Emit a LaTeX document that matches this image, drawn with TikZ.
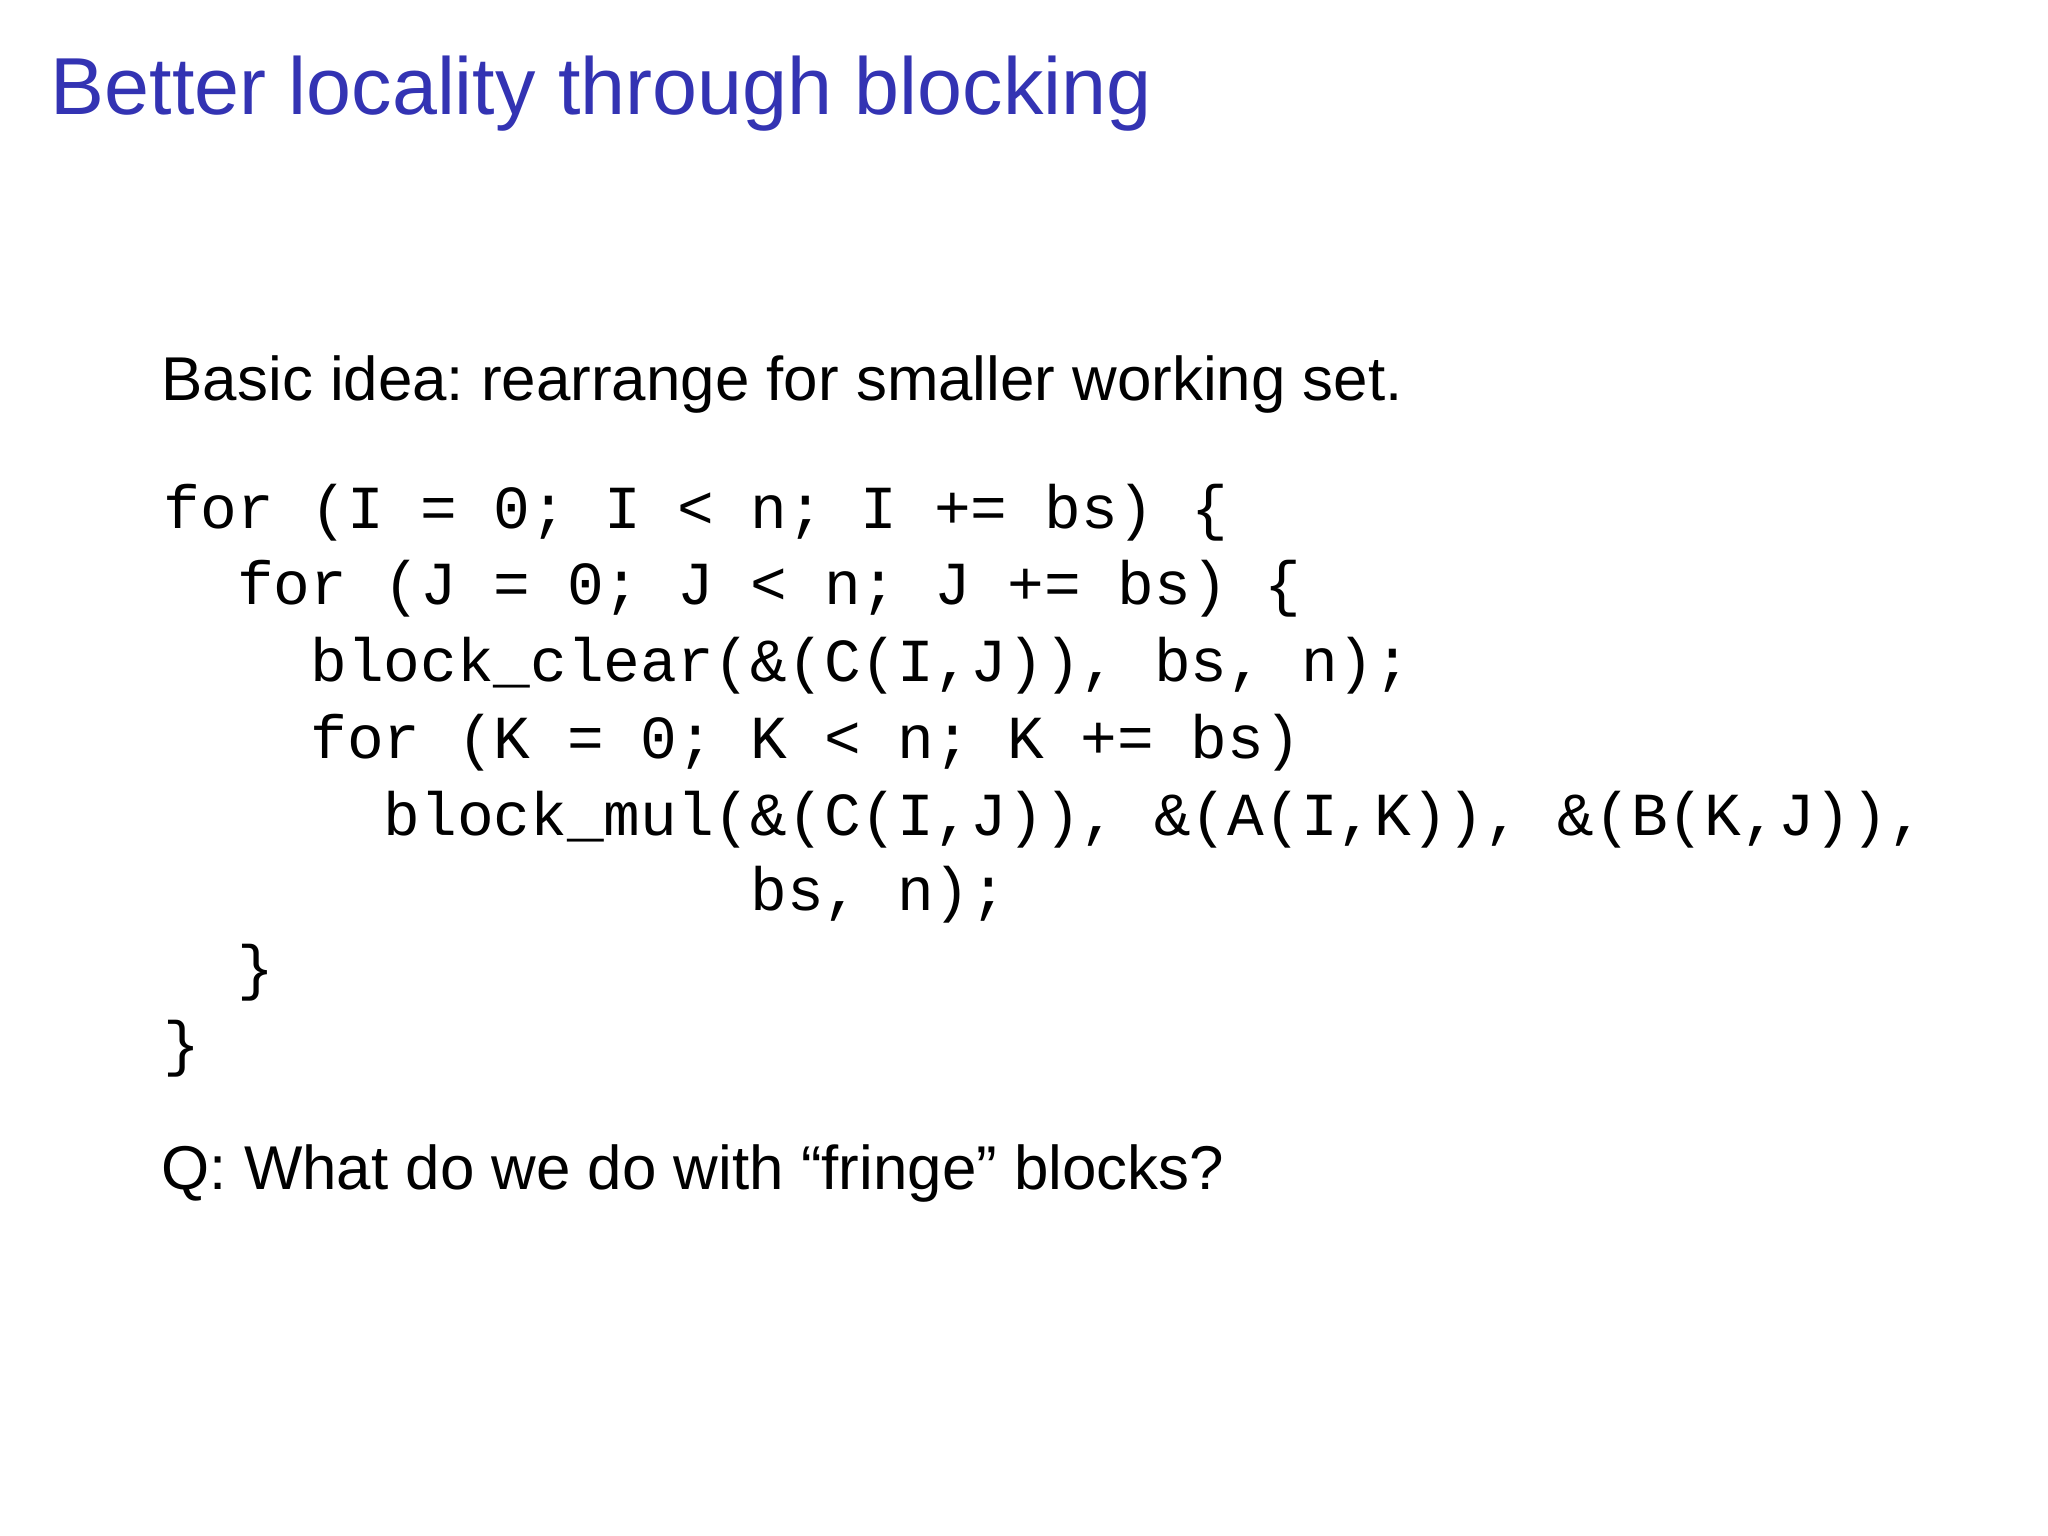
\documentclass[tikz,border=0pt]{standalone}
\usepackage{fontspec}
\setmainfont{Liberation Sans}
\newfontfamily\codefont{Liberation Mono}
\definecolor{titleblue}{RGB}{51,51,179}
\frenchspacing
\begin{document}
\begin{tikzpicture}[x=1cm,y=-1cm,
  txt/.style={anchor=base west,inner sep=0pt,font=\fontsize{17.6pt}{20pt}\selectfont},
  code/.style={anchor=base west,inner sep=0pt,font=\codefont\fontsize{17.4pt}{20pt}\selectfont}]
\useasboundingbox[fill=white] (0,0) rectangle (20.48,15.36);
\node[anchor=base west,inner sep=0pt,text=titleblue,font=\fontsize{23pt}{28pt}\selectfont] (title) at (0.50,1.15) {Better locality through blocking};
\node[txt] (idea) at (1.61,4.01) {Basic idea: rearrange for smaller working set.};
\def\cw{0.3667}
\node[code] (l1) at (1.63,5.29) {for (I = 0; I < n; I += bs) \{};
\node[code] (l2) at (1.63+2*\cw,6.05) {for (J = 0; J < n; J += bs) \{};
\node[code] (l3) at (1.63+4*\cw,6.82) {block\_clear(\&(C(I,J)), bs, n);};
\node[code] (l4) at (1.63+4*\cw,7.58) {for (K = 0; K < n; K += bs)};
\node[code] (l5) at (1.63+6*\cw,8.35) {block\_mul(\&(C(I,J)), \&(A(I,K)), \&(B(K,J)),};
\node[code] (l6) at (1.63+16*\cw,9.11) {bs, n);};
\node[code] (l7) at (1.63+2*\cw,9.88) {\}};
\node[code] (l8) at (1.63,10.64) {\}};
\node[txt] (q) at (1.61,11.89) {Q: What do we do with “fringe” blocks?};
\end{tikzpicture}
\end{document}
